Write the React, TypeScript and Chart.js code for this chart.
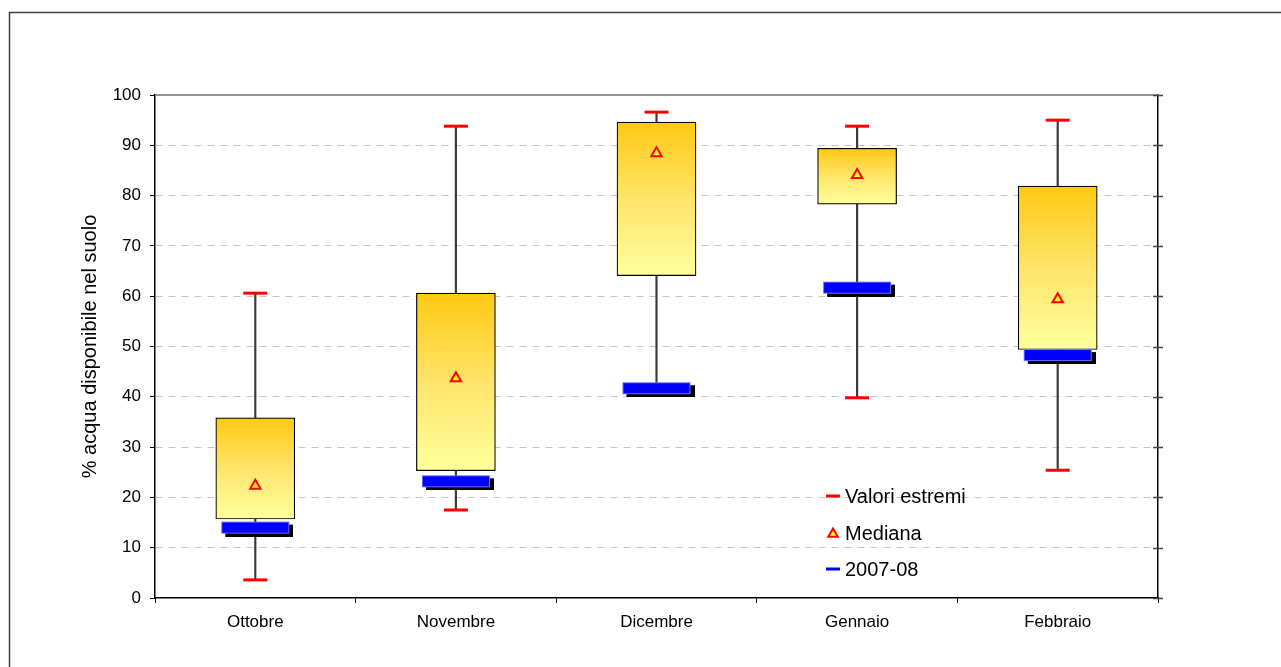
import React, { useEffect, useRef } from 'react';
import { Chart, registerables } from 'chart.js';

Chart.register(...registerables);

const categories = ['Ottobre', 'Novembre', 'Dicembre', 'Gennaio', 'Febbraio'];
const minValues = [3.6, 17.5, 40.8, 39.8, 25.4];
const maxValues = [60.6, 93.8, 96.6, 93.8, 95.0];
const q1Values = [15.7, 25.3, 64.1, 78.3, 49.4];
const q3Values = [35.8, 60.6, 94.6, 89.4, 81.9];
const medianValues = [22.3, 43.7, 88.4, 84.1, 59.4];
const year0708Values = [14.0, 23.2, 41.7, 61.7, 48.3];
const yTicks = [0, 10, 20, 30, 40, 50, 60, 70, 80, 90, 100];

const legendItems = ['Valori estremi', 'Mediana', '2007-08'];
const FONT = '"Liberation Sans", Arial, sans-serif';

export default function App() {
  const ref = useRef<HTMLCanvasElement>(null);

  useEffect(() => {
    const canvas = ref.current!;
    Chart.defaults.font.family = FONT;
    Chart.defaults.color = '#000';

    const marker = document.createElement('canvas');
    marker.width = 76;
    marker.height = 18;
    const m = marker.getContext('2d')!;
    m.fillStyle = '#000000';
    m.fillRect(8, 6, 68, 12);
    m.fillStyle = '#0000FF';
    m.fillRect(4, 3, 68, 12);
    m.strokeStyle = '#6a6aff';
    m.lineWidth = 1;
    m.strokeRect(4.5, 3.5, 67, 11);

    const boxGradient = (ctx: any) => {
      const chart = ctx.chart;
      const raw = ctx.raw;
      if (!Array.isArray(raw) || !chart.scales || !chart.scales.y) return '#FFE070';
      const ys = chart.scales.y;
      const top = ys.getPixelForValue(Math.max(raw[0], raw[1]));
      const bottom = ys.getPixelForValue(Math.min(raw[0], raw[1]));
      if (!isFinite(top) || !isFinite(bottom) || top === bottom) return '#FFE070';
      const g = chart.ctx.createLinearGradient(0, top, 0, bottom);
      g.addColorStop(0, '#FFC912');
      g.addColorStop(0.5, '#FFE46A');
      g.addColorStop(1, '#FFFF9C');
      return g;
    };

    const framePlugin = {
      id: 'frame',
      beforeDatasetsDraw(chart: any) {
        const { ctx, chartArea: a } = chart;
        ctx.save();
        ctx.strokeStyle = '#404040';
        ctx.lineWidth = 1.5;
        ctx.beginPath();
        ctx.moveTo(9.5, 667);
        ctx.lineTo(9.5, 12.5);
        ctx.lineTo(1281, 12.5);
        ctx.stroke();
        ctx.strokeStyle = '#707070';
        ctx.lineWidth = 1.5;
        ctx.beginPath();
        ctx.moveTo(a.left, a.top);
        ctx.lineTo(a.right, a.top);
        ctx.stroke();
        const ys = chart.scales.y;
        ctx.strokeStyle = '#444';
        ctx.lineWidth = 1.5;
        yTicks.forEach((v) => {
          const py = Math.round(ys.getPixelForValue(v)) + 0.5;
          ctx.beginPath();
          ctx.moveTo(a.right - 5, py);
          ctx.lineTo(a.right + 5, py);
          ctx.stroke();
        });
        ctx.restore();
      },
      afterDraw(chart: any) {
        const { ctx } = chart;
        ctx.save();
        ctx.font = '20px ' + FONT;
        ctx.textBaseline = 'middle';
        ctx.fillStyle = '#000';
        const rows = [496, 533, 569];
        ctx.strokeStyle = '#FF0000';
        ctx.lineWidth = 3;
        ctx.beginPath();
        ctx.moveTo(826, rows[0]);
        ctx.lineTo(840, rows[0]);
        ctx.stroke();
        const r = 5.5;
        const cx = 833, cy = rows[1] + 1;
        ctx.beginPath();
        ctx.moveTo(cx, cy - r);
        ctx.lineTo(cx + r * Math.sin((2 * Math.PI) / 3), cy - r * Math.cos((2 * Math.PI) / 3));
        ctx.lineTo(cx + r * Math.sin((4 * Math.PI) / 3), cy - r * Math.cos((4 * Math.PI) / 3));
        ctx.closePath();
        ctx.fillStyle = '#FFFF00';
        ctx.fill();
        ctx.strokeStyle = '#FF0000';
        ctx.lineWidth = 2;
        ctx.stroke();
        ctx.strokeStyle = '#0000FF';
        ctx.lineWidth = 3;
        ctx.beginPath();
        ctx.moveTo(826, rows[2]);
        ctx.lineTo(840, rows[2]);
        ctx.stroke();
        ctx.fillStyle = '#000';
        legendItems.forEach((t, i) => ctx.fillText(t, 845, rows[i] + 1));
        ctx.restore();
      },
    };

    const chart = new Chart(canvas, {
      type: 'bar',
      data: {
        labels: categories,
        datasets: [
          {
            type: 'bar',
            label: 'range',
            data: categories.map((_, i) => [minValues[i], maxValues[i]]) as any,
            backgroundColor: '#3a3a3a',
            barThickness: 1.5,
            grouped: false,
            order: 6,
          } as any,
          {
            type: 'bar',
            label: 'box',
            data: categories.map((_, i) => [q1Values[i], q3Values[i]]) as any,
            backgroundColor: boxGradient,
            borderColor: '#000000',
            borderWidth: 1.2,
            borderSkipped: false,
            barThickness: 79,
            grouped: false,
            order: 4,
          } as any,
          {
            type: 'line',
            label: 'Valori estremi',
            data: maxValues,
            showLine: false,
            pointStyle: 'line',
            pointRadius: 12,
            pointBorderWidth: 3,
            pointBorderColor: '#FF0000',
            pointBackgroundColor: '#FF0000',
            order: 5,
          } as any,
          {
            type: 'line',
            label: 'min',
            data: minValues,
            showLine: false,
            pointStyle: 'line',
            pointRadius: 12,
            pointBorderWidth: 3,
            pointBorderColor: '#FF0000',
            pointBackgroundColor: '#FF0000',
            order: 5,
          } as any,
          {
            type: 'line',
            label: '2007-08',
            data: year0708Values,
            showLine: false,
            pointStyle: marker,
            pointRadius: 6,
            order: 2,
          } as any,
          {
            type: 'line',
            label: 'Mediana',
            data: medianValues,
            showLine: false,
            pointStyle: 'triangle',
            pointRadius: 6,
            pointBorderWidth: 2,
            pointBorderColor: '#FF0000',
            pointBackgroundColor: '#FFFF00',
            order: 1,
          } as any,
        ],
      },
      options: {
        animation: false,
        responsive: false,
        events: [],
        layout: { padding: { left: 70, top: 95, right: 0, bottom: 0 } },
        plugins: { legend: { display: false }, tooltip: { enabled: false } },
        scales: {
          x: {
            type: 'category',
            offset: true,
            grid: {
              offset: true,
              drawOnChartArea: false,
              drawTicks: true,
              tickLength: 5,
              color: '#000',
              tickColor: '#000',
            },
            border: { color: '#000', width: 1.5 },
            ticks: { font: { size: 17 }, color: '#000', padding: 9, maxRotation: 0 },
            afterFit(s: any) {
              s.height = 69;
            },
          },
          y: {
            min: 0,
            max: 100,
            afterBuildTicks(s: any) {
              s.ticks = yTicks.map((v) => ({ value: v }));
            },
            ticks: { font: { size: 17 }, color: '#000', padding: 9 },
            grid: {
              color: (c: any) =>
                c.tick && (c.tick.value === 0 || c.tick.value === 100) ? 'rgba(0,0,0,0)' : '#c4c4c4',
              tickColor: '#000',
              tickLength: 5,
              lineWidth: 1,
            },
            border: { color: '#000', width: 1.5, dash: [7, 6] },
            title: {
              display: true,
              text: '% acqua disponibile nel suolo',
              font: { size: 20 },
              color: '#000',
              padding: 8,
            },
            afterFit(s: any) {
              s.width = 85;
            },
          },
          y2: {
            position: 'right',
            min: 0,
            max: 100,
            ticks: { display: false },
            grid: { drawOnChartArea: false, drawTicks: false },
            border: { color: '#000', width: 1.5 },
            afterFit(s: any) {
              s.width = 123;
            },
          },
        },
      } as any,
      plugins: [framePlugin],
    });

    return () => chart.destroy();
  }, []);

  return (
    <div style={{ position: 'fixed', left: 0, top: 0, width: 1281, height: 667, background: '#fff' }}>
      <canvas ref={ref} width={1281} height={667} style={{ display: 'block' }} />
    </div>
  );
}
